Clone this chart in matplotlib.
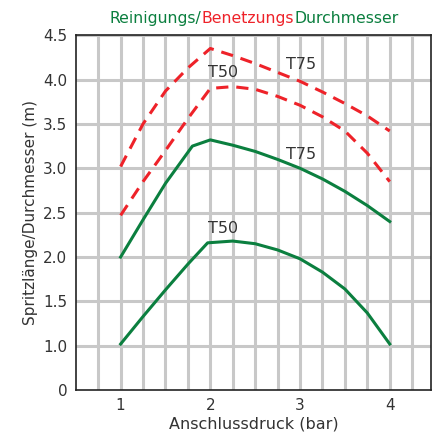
import matplotlib
matplotlib.use("Agg")
import matplotlib.pyplot as plt

# pressure in bar
pressure = [1.0, 1.25, 1.5, 1.8, 2.0, 2.25, 2.5, 2.75, 3.0, 3.25, 3.5, 3.75, 4.0]
green_t75 = [2.0, 2.42, 2.83, 3.25, 3.32, 3.26, 3.19, 3.10, 3.0, 2.88, 2.74, 2.58, 2.40]

pressure_t50 = [1.0, 1.25, 1.5, 1.75, 1.97, 2.25, 2.5, 2.75, 3.0, 3.25, 3.5, 3.75, 4.0]
green_t50 = [1.02, 1.33, 1.63, 1.92, 2.16, 2.18, 2.15, 2.08, 1.98, 1.83, 1.64, 1.37, 1.02]

pressure_red = [1.0, 1.25, 1.5, 1.75, 2.0, 2.25, 2.5, 2.75, 3.0, 3.25, 3.5, 3.75, 4.0]
red_t75 = [3.02, 3.50, 3.87, 4.13, 4.35, 4.27, 4.18, 4.08, 3.98, 3.86, 3.73, 3.59, 3.42]
red_t50 = [2.47, 2.85, 3.20, 3.56, 3.90, 3.92, 3.89, 3.81, 3.71, 3.58, 3.42, 3.17, 2.85]

y_ticks = [0.5, 1.0, 1.5, 2.0, 2.5, 3.0, 3.5, 4.0, 4.5]
y_tick_labels = ["0", "1.0", "1.5", "2.0", "2.5", "3.0", "3.5", "4.0", "4.5"]
x_ticks = [1, 2, 3, 4]

GREEN = "#0b7f3f"
RED = "#ee2229"
TEXT = "#333333"
GRID = "#c8c8c8"

plt.rcParams["font.family"] = "DejaVu Sans"

fig = plt.figure(figsize=(4.38, 4.34), dpi=100)
ax = fig.add_axes([0.173, 0.101, 0.811, 0.818])

ax.set_xlim(0.5, 4.46)
ax.set_ylim(0.5, 4.5)

# grid: vertical every 0.25 bar, horizontal every 0.5 m
for gx in [0.75 + 0.25 * i for i in range(15)]:
    ax.axvline(gx, color=GRID, lw=2.2, zorder=0)
for gy in y_ticks[1:]:
    ax.axhline(gy, color=GRID, lw=2.2, zorder=0)

ax.plot(pressure, green_t75, color=GREEN, lw=2.2, zorder=3)
ax.plot(pressure_t50, green_t50, color=GREEN, lw=2.2, zorder=3)
ax.plot(pressure_red, red_t75, color=RED, lw=2.2, dashes=(4, 2.6), zorder=3)
ax.plot(pressure_red, red_t50, color=RED, lw=2.2, dashes=(4, 2.6), zorder=3)

lbl = dict(color=TEXT, fontsize=11.5, ha="center", va="center", zorder=4)
ax.text(3.01, 4.17, "T75", **lbl)
ax.text(2.14, 4.08, "T50", **lbl)
ax.text(3.01, 3.15, "T75", **lbl)
ax.text(2.14, 2.32, "T50", **lbl)

ax.set_xticks(x_ticks)
ax.set_yticks(y_ticks)
ax.set_yticklabels(y_tick_labels)
ax.tick_params(length=0, labelsize=11, labelcolor=TEXT, pad=6)
for s in ax.spines.values():
    s.set_color("#222222")
    s.set_linewidth(1.2)

ax.set_xlabel("Anschlussdruck (bar)", fontsize=11.5, color=TEXT, labelpad=2)
ax.set_ylabel("Spritzlänge/Durchmesser (m)", fontsize=11, color=TEXT, labelpad=4)

# multi-coloured title drawn piece by piece
parts = [("Reinigungs/", GREEN), ("Benetzungs", RED), ("Durchmesser", GREEN)]
fig.canvas.draw()
renderer = fig.canvas.get_renderer()
texts = []
for s, c in parts:
    texts.append(fig.text(0, 0.958, s, color=c, fontsize=11.3, va="center"))
widths = [t.get_window_extent(renderer).width for t in texts]
total = sum(widths)
x0 = (254 - total / 2) / fig.bbox.width
for t, w in zip(texts, widths):
    t.set_x(x0)
    x0 += w / fig.bbox.width

fig.savefig("out.png", dpi=100)
